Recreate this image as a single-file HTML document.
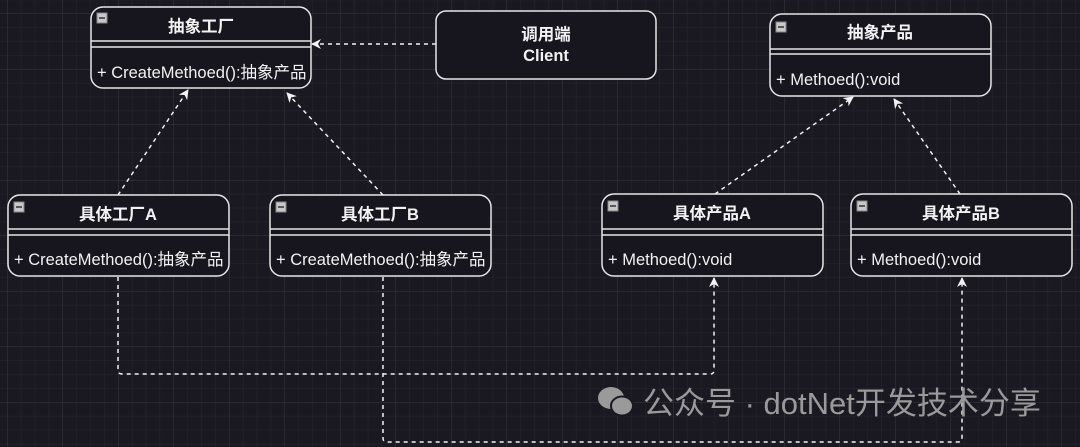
<!DOCTYPE html>
<html><head><meta charset="utf-8"><style>
html,body{margin:0;padding:0;background:#1a1820;}
svg{display:block;}
text{font-family:"Liberation Sans","Noto Sans CJK SC",sans-serif;fill:#f2f2f2;}
</style></head><body>
<svg width="1080" height="447" viewBox="0 0 1080 447" xmlns="http://www.w3.org/2000/svg">
<defs>
<pattern id="minor" x="7" y="13.5" width="13.875" height="13.875" patternUnits="userSpaceOnUse">
<path d="M0 0V13.875M0 0H13.875" stroke="#27252d" stroke-width="1" fill="none"/>
</pattern>
<pattern id="major" x="7" y="13.5" width="55.5" height="55.5" patternUnits="userSpaceOnUse">
<path d="M0 0V55.5M0 0H55.5" stroke="#3a3840" stroke-width="1" fill="none"/>
</pattern>
<marker id="ah" viewBox="0 0 10 10" refX="9" refY="5" markerWidth="10" markerHeight="10" orient="auto" markerUnits="userSpaceOnUse">
<path d="M0 0L10 5L0 10L3 5Z" fill="#f2f2f2"/>
</marker>
</defs>
<rect width="1080" height="447" fill="#1a1820"/>
<rect width="1080" height="447" fill="url(#minor)"/>
<rect width="1080" height="447" fill="url(#major)"/>

<g stroke="#f2f2f2" stroke-width="1.5" fill="none" stroke-dasharray="4 4">
<line x1="436" y1="44" x2="312" y2="44" marker-end="url(#ah)"/>
<line x1="118" y1="195" x2="188" y2="90" marker-end="url(#ah)"/>
<line x1="383" y1="195" x2="287" y2="93" marker-end="url(#ah)"/>
<line x1="715" y1="194" x2="853" y2="97" marker-end="url(#ah)"/>
<line x1="960" y1="194" x2="894" y2="99" marker-end="url(#ah)"/>
<path d="M118 277V370Q118 374 122 374H710Q714 374 714 370V278" marker-end="url(#ah)"/>
<path d="M383 277V438Q383 442 387 442H958Q962 442 962 438V278" marker-end="url(#ah)"/>
</g>

<g fill="#17151d" stroke="#e6e6e6" stroke-width="1.5">
<rect x="91" y="7" width="220" height="81" rx="12"/>
<rect x="436" y="11" width="220" height="68" rx="10"/>
<rect x="770" y="14" width="221" height="82" rx="12"/>
<rect x="8" y="195" width="221" height="81" rx="12"/>
<rect x="270" y="195" width="221" height="81" rx="12"/>
<rect x="602" y="194" width="221" height="82" rx="12"/>
<rect x="851" y="194" width="221" height="82" rx="12"/>
</g>
<g stroke="#e6e6e6" stroke-width="1.5">
<line x1="91" y1="41" x2="311" y2="41"/><line x1="91" y1="47" x2="311" y2="47"/>
<line x1="770" y1="49" x2="991" y2="49"/><line x1="770" y1="54" x2="991" y2="54"/>
<line x1="8" y1="229" x2="229" y2="229"/><line x1="8" y1="235" x2="229" y2="235"/>
<line x1="270" y1="229" x2="491" y2="229"/><line x1="270" y1="235" x2="491" y2="235"/>
<line x1="602" y1="229" x2="823" y2="229"/><line x1="602" y1="235" x2="823" y2="235"/>
<line x1="851" y1="229" x2="1072" y2="229"/><line x1="851" y1="235" x2="1072" y2="235"/>
</g>
<g fill="#c8c8c8" stroke="#888" stroke-width="1">
<rect x="97" y="13" width="10" height="10"/>
<rect x="776" y="22" width="10" height="10"/>
<rect x="14" y="202" width="10" height="10"/>
<rect x="276" y="202" width="10" height="10"/>
<rect x="608" y="201" width="10" height="10"/>
<rect x="857" y="201" width="10" height="10"/>
</g>
<g stroke="#333" stroke-width="1.5">
<line x1="99" y1="18" x2="105" y2="18"/><line x1="778" y1="27" x2="784" y2="27"/>
<line x1="16" y1="207" x2="22" y2="207"/><line x1="278" y1="207" x2="284" y2="207"/>
<line x1="610" y1="206" x2="616" y2="206"/><line x1="859" y1="206" x2="865" y2="206"/>
</g>

<g font-size="16.5" font-weight="bold" text-anchor="middle">
<text x="201" y="32">抽象工厂</text>
<text x="546" y="40">调用端</text>
<text x="546" y="61">Client</text>
<text x="880" y="38">抽象产品</text>
<text x="118" y="220">具体工厂A</text>
<text x="380" y="220">具体工厂B</text>
<text x="712" y="219">具体产品A</text>
<text x="961" y="219">具体产品B</text>
</g>
<g font-size="16.5">
<text x="97" y="78">+ CreateMethoed():抽象产品</text>
<text x="776" y="85">+ Methoed():void</text>
<text x="14" y="265">+ CreateMethoed():抽象产品</text>
<text x="276" y="265">+ CreateMethoed():抽象产品</text>
<text x="608" y="265">+ Methoed():void</text>
<text x="857" y="265">+ Methoed():void</text>
</g>

<g fill="#9a9a9a">
<ellipse cx="611" cy="398" rx="13" ry="11"/>
<ellipse cx="622" cy="406" rx="11" ry="9.5" stroke="#1a1820" stroke-width="2"/>
</g>
<text x="643" y="414" font-size="31" style="fill:#9a9a9a">公众号 · dotNet开发技术分享</text>
</svg>
</body></html>
